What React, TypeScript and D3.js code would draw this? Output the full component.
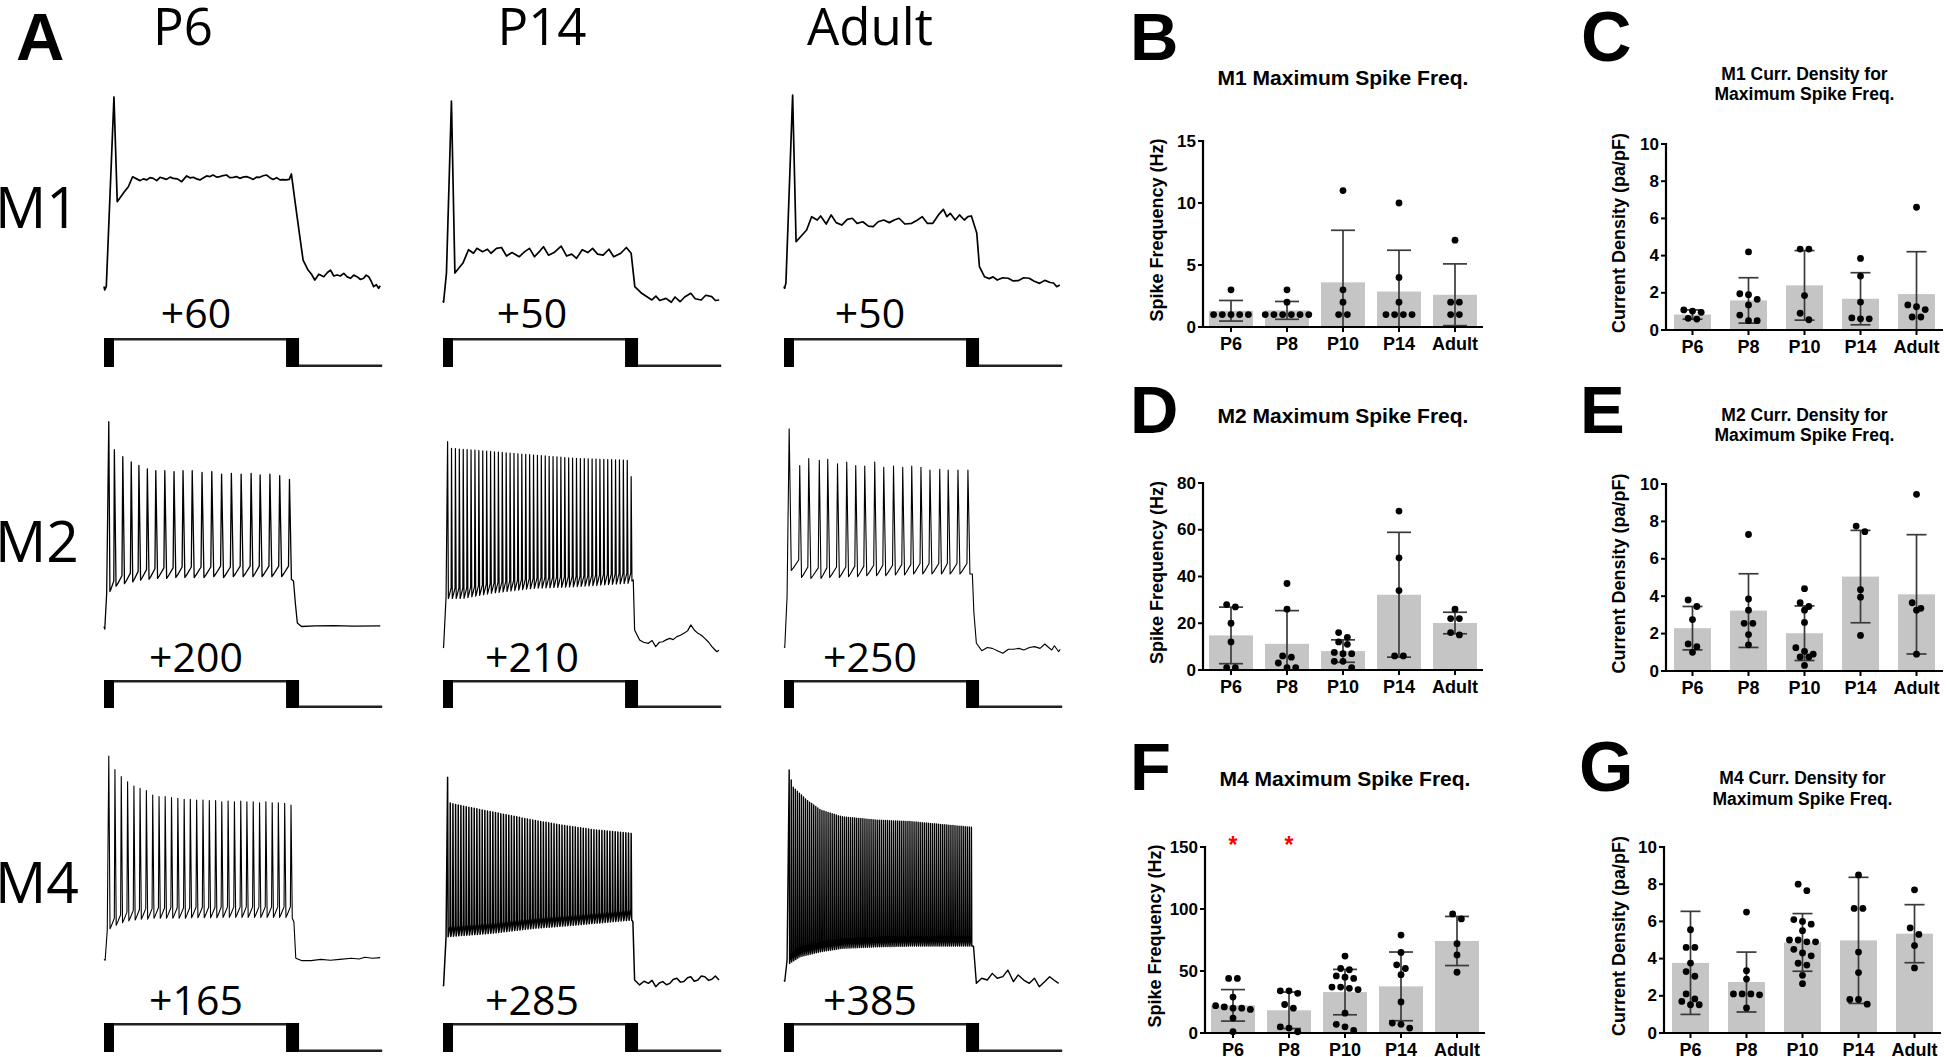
import React from 'react';
import * as d3 from 'd3';

type Pt = [number, number];

// ================= Panel A: current-clamp recordings =================
const ageColumns = ['P6', 'P14', 'Adult'];
const cellRows = ['M1', 'M2', 'M4'];
const stimLabels = [
  ['+60', '+50', '+50'],
  ['+200', '+210', '+250'],
  ['+165', '+285', '+385'],
];
const sweepEndMs = 1440;
const stimOffMs = 1017;

// M1 cells: single spike then plateau  [ms, mV]
const m1P6Trace: Pt[] = [[0,-68],[4,-70],[12,-68],[52,40.3],[69,-19.5],[83,-17.4],[105,-14],[127,-11],[149,-5.3],[170,-6.5],[188,-7.5],[205,-6.5],[222,-7.1],[240,-5.8],[257,-6.2],[275,-7.5],[292,-5.6],[310,-6.2],[326,-6.8],[345,-5.5],[361,-6.2],[383,-6.5],[405,-8.1],[431,-4.8],[448,-5.9],[465,-5.6],[483,-6.5],[500,-7.1],[517,-6],[535,-4.8],[552,-5.2],[569,-4.3],[587,-5.5],[604,-5.2],[621,-4.6],[639,-4.3],[656,-5.8],[674,-5.6],[691,-5.2],[708,-6.2],[725,-5.5],[743,-5.2],[760,-5.9],[778,-6.8],[795,-5.5],[812,-5.6],[830,-4.7],[847,-4.3],[865,-5.8],[882,-6.8],[900,-5.8],[917,-7.1],[934,-6.9],[951,-7.1],[966,-6.8],[977,-3.7],[995,-18.6],[1021,-39.5],[1038,-52.9],[1064,-58.6],[1082,-61],[1099,-64.3],[1120,-61],[1146,-62.4],[1165,-60],[1181,-58.6],[1198,-62],[1215,-61.4],[1232,-62],[1250,-60.5],[1268,-62.5],[1285,-63.3],[1302,-61.5],[1319,-62.4],[1337,-64],[1354,-63.3],[1367,-61.5],[1380,-62.4],[1393,-65],[1406,-68.1],[1420,-67],[1432,-69],[1440,-67.6]];
const m1P14Trace: Pt[] = [[0,-76],[3,-77],[18,-60.3],[44,38],[62,-60.3],[104,-54.6],[133,-47],[159,-49],[177,-46.2],[206,-48.1],[232,-46.7],[250,-49],[279,-46.2],[305,-45.7],[331,-50.6],[360,-48.6],[397,-51],[426,-48.1],[451,-46.2],[477,-51],[506,-47.6],[524,-45.3],[550,-50.1],[579,-48.6],[616,-44.9],[645,-50.6],[671,-49.5],[696,-51.9],[726,-47],[755,-48.6],[780,-46.2],[806,-49.5],[835,-50.1],[865,-46.7],[890,-51],[927,-49],[956,-45.7],[981,-49],[1000,-68.1],[1036,-71.9],[1089,-75.7],[1110,-73.5],[1130,-76],[1163,-74.8],[1190,-77],[1210,-74],[1236,-76.7],[1260,-74],[1292,-71.9],[1315,-75],[1346,-75.7],[1370,-73],[1401,-73.8],[1420,-76],[1440,-75.7]];
const m1AdultTrace: Pt[] = [[0,-68],[3,-69],[10,-66],[45,41.4],[63,-42.4],[118,-35.7],[144,-28.1],[173,-30],[191,-27.7],[220,-32.3],[246,-27.1],[272,-31.5],[301,-32.9],[330,-29.6],[356,-29],[381,-31.9],[411,-31],[440,-33.5],[465,-33.8],[491,-31],[520,-30],[549,-31.5],[575,-30],[600,-29],[630,-32.3],[666,-31.9],[696,-30],[721,-28.1],[747,-31.9],[776,-31.9],[805,-27.1],[831,-23.9],[849,-28.1],[867,-26.2],[893,-30],[915,-27.1],[940,-30],[959,-28.1],[977,-27.7],[1005,-37.4],[1019,-56.7],[1045,-62.4],[1070,-63.5],[1090,-62.5],[1112,-64.3],[1140,-63],[1169,-63.3],[1195,-64.8],[1223,-64.6],[1250,-63],[1278,-63.3],[1305,-65],[1333,-66.2],[1360,-64.5],[1388,-65.7],[1405,-66],[1422,-68.1],[1438,-67.2]];

// M2 P6 (spike times ms, peaks mV, AHP troughs mV)
const m2P6Onset: Pt[] = [[0,-68],[4,-69.5],[14,-49]];
const m2P6Times = [25,54,98,142,182,226,270,317,365,412,460,511,562,613,664,715,767,814,865,916,967];
const m2P6Peaks = [49,33,29,26,24,22,21,21,20.5,21,21,20,20.5,19,19.5,19,19.5,18.6,19,18.2,16];
const m2P6Troughs = [-48,-45,-43.5,-42.5,-41.5,-41,-40.5,-40.5,-40,-40,-40,-40,-39.5,-40,-39.5,-39.5,-39.5,-39.5,-39.5,-39.5,-41];
const m2P6Tail: Pt[] = [[988,-42],[998,-55],[1008,-66],[1030,-68],[1100,-67.6],[1200,-67.5],[1300,-67.8],[1440,-67.7]];

// M2 P14 (dense train: envelope)
const m2P14Onset: Pt[] = [[0,-79.5],[3,-80],[16,-51]];
const m2P14Count = 48;
const m2P14Span = [24, 981];
const m2P14PeakEnv: Pt[] = [[24,37.6],[44,33.8],[250,32],[469,30],[688,28.1],[962,27],[981,17.6]];
const m2P14TroughEnv: Pt[] = [[24,-52],[99,-52],[250,-49],[469,-46.2],[688,-45.3],[962,-43.3],[981,-42]];
const m2P14Tail: Pt[] = [[992,-41.4],[999,-70],[1025,-75.7],[1045,-77],[1071,-77.6],[1090,-76],[1109,-79.5],[1128,-77],[1146,-76.7],[1165,-75.5],[1183,-74.8],[1200,-75.5],[1219,-73.8],[1238,-73],[1256,-71.9],[1275,-70.5],[1292,-67.1],[1310,-70],[1329,-71.9],[1347,-73],[1365,-74.8],[1385,-77],[1402,-79.5],[1415,-81],[1428,-82.4],[1439,-81.5]];

// M2 Adult
const m2AdultOnset: Pt[] = [[0,-79.5],[4,-80],[16,-51]];
const m2AdultTimes = [27,82,129,184,228,279,327,374,421,473,520,571,619,666,714,761,812,856,907,959];
const m2AdultPeaks = [45,24,28,27,27.5,25,26,24,23.7,26,23,23.7,23,23.7,23,21.4,21.8,21.4,21.4,21.4];
const m2AdultTroughs = [-36,-40,-40.5,-40.5,-40,-40,-39.5,-39.5,-39,-39,-39,-38.5,-38.5,-38,-38,-38,-38,-38,-38,-38];
const m2AdultTail: Pt[] = [[982,-38],[990,-60],[1003,-77.6],[1031,-81.8],[1060,-80],[1086,-80.5],[1115,-82],[1141,-83.3],[1170,-81],[1196,-81],[1225,-80.5],[1250,-81.4],[1280,-80],[1306,-79.5],[1335,-80.5],[1360,-78],[1380,-80],[1396,-81.4],[1410,-79],[1432,-82.4],[1440,-81]];

// M4 P6
const m4P6Onset: Pt[] = [[0,-68.5],[6,-69],[17,-51.7]];
const m4P6Times = [25,57,90,123,156,188,221,254,287,319,352,385,418,450,483,516,549,582,614,647,680,713,745,778,811,844,877,909,942,975];
const m4P6Peaks = [47.7,40,36,33,30.6,29.2,28,25.4,24.5,24.5,24,23.5,23,23,22.6,22.6,22.2,22.2,21.6,22,21.6,22,21.6,21.6,21,21.6,21,21,20.7,19.7];
const m4P6Troughs = [-51,-49,-47.5,-46.5,-46,-45.5,-45.5,-45,-45,-45,-45,-45,-45,-44.7,-44.7,-44.7,-44.7,-44.7,-44.5,-44.5,-44.5,-44.5,-44.5,-44.5,-44.5,-44.5,-44.5,-44.5,-44.5,-45];
const m4P6Tail: Pt[] = [[990,-47],[1000,-67.9],[1029,-69.2],[1080,-69.2],[1130,-68.5],[1180,-69],[1230,-68.5],[1290,-67.9],[1330,-68.3],[1360,-67.3],[1400,-67.9],[1440,-67.5]];

// M4 P14 (dense)
const m4P14Onset: Pt[] = [[0,-83.1],[3,-83.5],[16,-55.5]];
const m4P14Count = 70;
const m4P14Span = [24, 981];
const m4P14PeakEnv: Pt[] = [[24,35.5],[38,20.7],[104,19.1],[250,15.9],[469,11.1],[615,8.3],[797,5.4],[981,3.5]];
const m4P14TroughEnv: Pt[] = [[24,-55.5],[250,-53.6],[469,-50.8],[688,-48.9],[981,-46]];
const m4P14Tail: Pt[] = [[990,-47],[999,-80.3],[1025,-83.1],[1048,-81],[1071,-82.2],[1090,-80.5],[1109,-84.1],[1128,-82],[1146,-81.2],[1165,-83],[1183,-82.2],[1200,-80],[1219,-79.3],[1238,-81.5],[1256,-81.2],[1275,-79],[1292,-78.4],[1310,-81],[1329,-80.3],[1347,-78],[1365,-78.4],[1385,-80.5],[1402,-79.9],[1420,-78],[1439,-80.3]];

// M4 Adult (dense)
const m4AdultOnset: Pt[] = [[0,-80.3],[4,-81],[16,-68.9]];
const m4AdultCount = 90;
const m4AdultSpan = [27, 977];
const m4AdultPeakEnv: Pt[] = [[27,39.7],[45,30.2],[118,22.6],[191,16.9],[301,13],[484,11.1],[667,10.2],[849,8.3],[977,7]];
const m4AdultTroughEnv: Pt[] = [[27,-70.8],[82,-67],[191,-64.1],[301,-62.2],[484,-61.3],[667,-60.9],[977,-60.9]];
const m4AdultTail: Pt[] = [[988,-61],[1003,-82.2],[1031,-79.3],[1060,-80.3],[1086,-76.5],[1112,-79.3],[1141,-78.4],[1167,-74.6],[1196,-81.2],[1221,-77.4],[1250,-80.3],[1279,-82.2],[1306,-79.3],[1331,-84.1],[1360,-81.2],[1385,-78.4],[1407,-80.3],[1432,-82.2]];

// ================= Panels B–G: bar charts =================
const categories = ['P6', 'P8', 'P10', 'P14', 'Adult'];

const m1FreqMean = [1.31, 1.34, 3.6, 2.86, 2.6];
const m1FreqSD = [0.83, 0.72, 4.2, 3.33, 2.49];
const m1FreqPoints = [[3,1,1,1,1,1],[3,2,1,1,1,1,1,1],[11,3,2,1,1],[10,4,2,1,1,1,1],[7,2,2,1,1]];
const m1FreqTicks = [0, 5, 10, 15];

const m1DensMean = [0.83, 1.59, 2.4, 1.68, 1.93];
const m1DensSD = [0.25, 1.22, 1.87, 1.4, 2.28];
const m1DensPoints = [[1.02,1.08,0.95,0.63,0.59],[4.2,1.95,1.9,1.65,1.35,0.8,0.5,0.5],[4.35,4.35,1.85,0.9,0.55],[3.85,2.9,1.5,0.65,0.6,0.6],[6.6,1.35,1.25,1.1,0.7,0.7]];
const densTicks = [0, 2, 4, 6, 8, 10];

const m2FreqMean = [14.8, 11.2, 8.1, 32.2, 20.1];
const m2FreqSD = [12.1, 14.2, 4.8, 26.7, 4.6];
const m2FreqPoints = [[28,27,20,12,1,1],[37,26,6,5.5,3,1,1],[16,14,12,11,7.5,7,7,3.7,3.7,1],[68,48,34,6,6],[26,22,22,16,15]];
const m2FreqTicks = [0, 20, 40, 60, 80];

const m2DensMean = [2.29, 3.23, 2.02, 5.05, 4.1];
const m2DensSD = [1.16, 1.97, 1.46, 2.47, 3.19];
const m2DensPoints = [[3.8,3.45,2.75,1.45,1.3,1.0],[7.3,3.85,3.25,2.55,2.55,1.95,1.4],[4.4,3.65,3.45,3.25,2.6,1.25,1.05,0.9,0.75,0.75,0.3],[7.75,7.45,4.35,3.95,1.9],[9.45,3.65,3.35,3.25,0.9]];

const m4FreqMean = [22.3, 18.3, 33, 37.6, 74.2];
const m4FreqSD = [12.7, 14.7, 18.3, 27.7, 19.8];
const m4FreqPoints = [[44,44,29,22,21,20,20,19,12,1],[34,34,32,23,20,5,4,1],[62,52,51,46,45,44,37,37,36,35,16,7,5,2],[79,65,55,52,47,25,8,7,4],[96,92,72,63,49]];
const m4FreqTicks = [0, 50, 100, 150];
const m4FreqSig = ['*', '*', '', '', ''];

const m4DensMean = [3.77, 2.74, 4.87, 4.98, 5.34];
const m4DensSD = [2.77, 1.61, 1.55, 3.39, 1.56];
const m4DensPoints = [[5.55,4.6,4.6,3.76,3.3,3.05,2.1,1.83,1.7,1.52,1.52],[6.5,3.35,2.9,2.1,2.1,2.1,2.05,1.35],[8.0,7.65,6.1,6.0,5.85,5.5,5.0,5.0,4.9,4.9,4.5,4.3,4.15,3.75,3.65,3.1,2.65],[8.5,6.7,6.7,4.35,3.25,1.8,1.8,1.55],[7.7,5.65,5.3,4.7,3.5]];

// ================= helpers =================
const ARIAL = "'Liberation Sans', Arial, Helvetica, sans-serif";
const MYRIAD = "'Open Sans', 'Noto Sans', sans-serif";

function spikeTrain(onset: Pt[], times: number[], peaks: number[], troughs: number[], tail: Pt[]): Pt[] {
  const pts: Pt[] = [...onset];
  const n = times.length;
  for (let i = 0; i < n; i++) {
    const isiNext = i < n - 1 ? times[i + 1] - times[i] : times[i] - times[i - 1];
    if (i > 0) {
      const isiPrev = times[i] - times[i - 1];
      pts.push([times[i] - 0.1 * isiPrev, troughs[i - 1] + 6]);
    }
    pts.push([times[i], peaks[i]]);
    pts.push([times[i] + 0.2 * isiNext, troughs[i]]);
    if (i < n - 1) pts.push([times[i] + 0.4 * isiNext, troughs[i] + 1.5]);
  }
  return pts.concat(tail);
}

function denseTrain(onset: Pt[], count: number, span: number[], peakEnv: Pt[], troughEnv: Pt[], tail: Pt[]): Pt[] {
  const idx = d3.scaleLinear().domain([0, count - 1]).range(span);
  const peakAt = d3.scaleLinear().domain(peakEnv.map(p => p[0])).range(peakEnv.map(p => p[1]));
  const troughAt = d3.scaleLinear().domain(troughEnv.map(p => p[0])).range(troughEnv.map(p => p[1]));
  const times = d3.range(count).map(i => idx(i));
  return spikeTrain(onset, times, times.map(t => peakAt(t)), times.map(t => troughAt(t)), tail);
}

const traceGrid: { pts: Pt[]; width: number }[][] = [
  [
    { pts: m1P6Trace, width: 1.7 },
    { pts: m1P14Trace, width: 1.7 },
    { pts: m1AdultTrace, width: 1.7 },
  ],
  [
    { pts: spikeTrain(m2P6Onset, m2P6Times, m2P6Peaks, m2P6Troughs, m2P6Tail), width: 1.3 },
    { pts: denseTrain(m2P14Onset, m2P14Count, m2P14Span, m2P14PeakEnv, m2P14TroughEnv, m2P14Tail), width: 1.2 },
    { pts: spikeTrain(m2AdultOnset, m2AdultTimes, m2AdultPeaks, m2AdultTroughs, m2AdultTail), width: 1.1 },
  ],
  [
    { pts: spikeTrain(m4P6Onset, m4P6Times, m4P6Peaks, m4P6Troughs, m4P6Tail), width: 1.1 },
    { pts: denseTrain(m4P14Onset, m4P14Count, m4P14Span, m4P14PeakEnv, m4P14TroughEnv, m4P14Tail), width: 1.5 },
    { pts: denseTrain(m4AdultOnset, m4AdultCount, m4AdultSpan, m4AdultPeakEnv, m4AdultTroughEnv, m4AdultTail), width: 1.4 },
  ],
];

// layout for panel A
const colX0 = [104, 443, 784];
const colLabelX = [183, 542, 870];
const stimLabelX = [196, 532, 870];
const rowBase = [290, 630, 962];
const rowLabelY = [228, 562, 903];
const stimTop = [338, 680, 1023];
const stimBottom = [367, 708, 1052];
const stimLabelY = [328, 672, 1015];

function PanelA() {
  return (
    <g>
      <text x={16} y={60} fontFamily={ARIAL} fontWeight="bold" fontSize={67}>A</text>
      {ageColumns.map((c, j) => (
        <text key={c} x={colLabelX[j]} y={45} textAnchor="middle" fontFamily={MYRIAD} fontSize={51}>{c}</text>
      ))}
      {cellRows.map((r, i) => (
        <text key={r} x={-5} y={rowLabelY[i]} fontFamily={MYRIAD} fontSize={57}>{r}</text>
      ))}
      {traceGrid.map((row, i) =>
        row.map((tr, j) => {
          const xs = d3.scaleLinear().domain([0, sweepEndMs]).range([colX0[j], colX0[j] + sweepEndMs * 0.1918]);
          const ys = d3.scaleLinear().domain([-70, 40]).range([rowBase[i], rowBase[i] - 192.5]);
          const line = d3.line<Pt>().x(p => xs(p[0])).y(p => ys(p[1]));
          const top = stimTop[i], bot = stimBottom[i];
          const xOn = xs(0), xOff = xs(stimOffMs), xEnd = xs(sweepEndMs) + 2;
          return (
            <g key={`${i}-${j}`}>
              <path d={line(tr.pts) || ''} fill="none" stroke="#000" strokeWidth={tr.width} strokeLinejoin="round" />
              <text x={stimLabelX[j]} y={stimLabelY[i]} textAnchor="middle" fontFamily={MYRIAD} fontSize={41}>{stimLabels[i][j]}</text>
              <rect x={xOn} y={top} width={10} height={bot - top} fill="#000" />
              <line x1={xOn + 10} x2={xOff - 12} y1={top + 1.2} y2={top + 1.2} stroke="#222" strokeWidth={2.6} />
              <rect x={xOff - 13} y={top} width={13} height={bot - top} fill="#000" />
              <line x1={xOff} x2={xEnd} y1={bot - 1.2} y2={bot - 1.2} stroke="#222" strokeWidth={2.4} />
            </g>
          );
        })
      )}
    </g>
  );
}

interface BarPanelSpec {
  letter: string; lx: number; ly: number; letterSize: number;
  title: string[]; titleY: number[]; titleSize: number;
  yLabel: string; yLabelX: number;
  mean: number[]; sd: number[]; points: number[][]; ticks: number[];
  sig?: string[];
  x0: number; x1: number; yTop: number; yBot: number;
  pi: number; po: number; cap: number;
}

const narrow = { pi: 0.214, po: 0.107, cap: 24 };
const wide = { pi: 0.34, po: 0.143, cap: 20 };

const barPanels: BarPanelSpec[] = [
  { letter: 'B', lx: 1130, ly: 60, letterSize: 67, title: ['M1 Maximum Spike Freq.'], titleY: [85], titleSize: 21,
    yLabel: 'Spike Frequency (Hz)', yLabelX: 1157, mean: m1FreqMean, sd: m1FreqSD, points: m1FreqPoints, ticks: m1FreqTicks,
    x0: 1203, x1: 1483, yTop: 141, yBot: 327, ...narrow },
  { letter: 'C', lx: 1581, ly: 61, letterSize: 70, title: ['M1 Curr. Density for', 'Maximum Spike Freq.'], titleY: [80, 100], titleSize: 17.5,
    yLabel: 'Current Density (pa/pF)', yLabelX: 1619, mean: m1DensMean, sd: m1DensSD, points: m1DensPoints, ticks: densTicks,
    x0: 1666, x1: 1943, yTop: 144, yBot: 330, ...wide },
  { letter: 'D', lx: 1130, ly: 433, letterSize: 67, title: ['M2 Maximum Spike Freq.'], titleY: [423], titleSize: 21,
    yLabel: 'Spike Frequency (Hz)', yLabelX: 1157, mean: m2FreqMean, sd: m2FreqSD, points: m2FreqPoints, ticks: m2FreqTicks,
    x0: 1203, x1: 1483, yTop: 483, yBot: 670, ...narrow },
  { letter: 'E', lx: 1580, ly: 433, letterSize: 67, title: ['M2 Curr. Density for', 'Maximum Spike Freq.'], titleY: [421, 441], titleSize: 17.5,
    yLabel: 'Current Density (pa/pF)', yLabelX: 1619, mean: m2DensMean, sd: m2DensSD, points: m2DensPoints, ticks: densTicks,
    x0: 1666, x1: 1943, yTop: 484, yBot: 671, ...wide },
  { letter: 'F', lx: 1130, ly: 790, letterSize: 67, title: ['M4 Maximum Spike Freq.'], titleY: [786], titleSize: 21,
    yLabel: 'Spike Frequency (Hz)', yLabelX: 1155, mean: m4FreqMean, sd: m4FreqSD, points: m4FreqPoints, ticks: m4FreqTicks, sig: m4FreqSig,
    x0: 1205, x1: 1485, yTop: 847, yBot: 1033, ...narrow },
  { letter: 'G', lx: 1579, ly: 791, letterSize: 70, title: ['M4 Curr. Density for', 'Maximum Spike Freq.'], titleY: [784, 805], titleSize: 17.5,
    yLabel: 'Current Density (pa/pF)', yLabelX: 1619, mean: m4DensMean, sd: m4DensSD, points: m4DensPoints, ticks: densTicks,
    x0: 1664, x1: 1941, yTop: 847, yBot: 1033, ...wide },
];

function swarm(values: number[], y: (v: number) => number, cx: number, r: number, d: number) {
  const sorted = values.map(v => ({ v, py: y(v) })).sort((a, b) => a.py - b.py);
  const rows: { v: number; py: number }[][] = [];
  for (const s of sorted) {
    const last = rows[rows.length - 1];
    if (last && Math.abs(s.py - last[0].py) < 2 * r) last.push(s);
    else rows.push([s]);
  }
  return rows.flatMap(row => row.map((s, k) => ({ cx: cx + (k - (row.length - 1) / 2) * d, cy: s.py })));
}

function BarPanel({ p }: { p: BarPanelSpec }) {
  const x = d3.scaleBand<string>().domain(categories).range([p.x0, p.x1]).paddingInner(p.pi).paddingOuter(p.po);
  const yMax = p.ticks[p.ticks.length - 1];
  const y = d3.scaleLinear().domain([0, yMax]).range([p.yBot, p.yTop]);
  const cxMid = (p.x0 + p.x1) / 2;
  const r = 3.4;
  return (
    <g fontFamily={ARIAL}>
      <text x={p.lx} y={p.ly} fontWeight="bold" fontSize={p.letterSize}>{p.letter}</text>
      {p.title.map((t, i) => (
        <text key={i} x={cxMid} y={p.titleY[i]} textAnchor="middle" fontWeight="bold" fontSize={p.titleSize}>{t}</text>
      ))}
      <text transform={`translate(${p.yLabelX},${(p.yTop + p.yBot) / 2 - 4}) rotate(-90)`} textAnchor="middle"
        dominantBaseline="central" fontWeight="bold" fontSize={18}>{p.yLabel}</text>
      {categories.map((c, i) => {
        const bx = x(c)!;
        const cx = bx + x.bandwidth() / 2;
        const m = p.mean[i], s = p.sd[i];
        const hi = m + s, lo = m - s;
        const loClamped = Math.max(0, lo);
        const pts = swarm(p.points[i], y, cx, r, 8.7);
        return (
          <g key={c}>
            <rect x={bx} y={y(m)} width={x.bandwidth()} height={p.yBot - y(m)} fill="#c5c5c5" />
            <line x1={cx} x2={cx} y1={y(hi)} y2={y(loClamped)} stroke="#3a3a3a" strokeWidth={1.7} />
            <line x1={cx - p.cap / 2} x2={cx + p.cap / 2} y1={y(hi)} y2={y(hi)} stroke="#3a3a3a" strokeWidth={1.7} />
            {lo >= 0 && (
              <line x1={cx - p.cap / 2} x2={cx + p.cap / 2} y1={y(lo)} y2={y(lo)} stroke="#3a3a3a" strokeWidth={1.7} />
            )}
            {pts.map((q, k) => (
              <circle key={k} cx={q.cx} cy={q.cy} r={r} fill="#000" />
            ))}
            <line x1={cx} x2={cx} y1={p.yBot} y2={p.yBot + 5} stroke="#000" strokeWidth={2} />
            <text x={cx} y={p.yBot + 23} textAnchor="middle" fontWeight="bold" fontSize={18}>{c}</text>
            {p.sig && p.sig[i] && (
              <text x={cx} y={p.yTop + 6} textAnchor="middle" fontWeight="bold" fontSize={23} fill="#ff0000">{p.sig[i]}</text>
            )}
          </g>
        );
      })}
      <line x1={p.x0} x2={p.x0} y1={p.yTop - 1} y2={p.yBot + 1} stroke="#000" strokeWidth={2.2} />
      <line x1={p.x0 - 1} x2={p.x1} y1={p.yBot} y2={p.yBot} stroke="#000" strokeWidth={2.2} />
      {p.ticks.map(t => (
        <g key={t}>
          <line x1={p.x0 - 5} x2={p.x0} y1={y(t)} y2={y(t)} stroke="#000" strokeWidth={2} />
          <text x={p.x0 - 7} y={y(t)} textAnchor="end" dominantBaseline="central" fontWeight="bold" fontSize={17}>{t}</text>
        </g>
      ))}
    </g>
  );
}

export default function App() {
  return (
    <div style={{ position: 'fixed', left: 0, top: 0, background: '#fff' }}>
      <svg width={1946} height={1057} viewBox="0 0 1946 1057" style={{ display: 'block', background: '#fff' }}>
        <PanelA />
        {barPanels.map(p => <BarPanel key={p.letter} p={p} />)}
      </svg>
    </div>
  );
}
